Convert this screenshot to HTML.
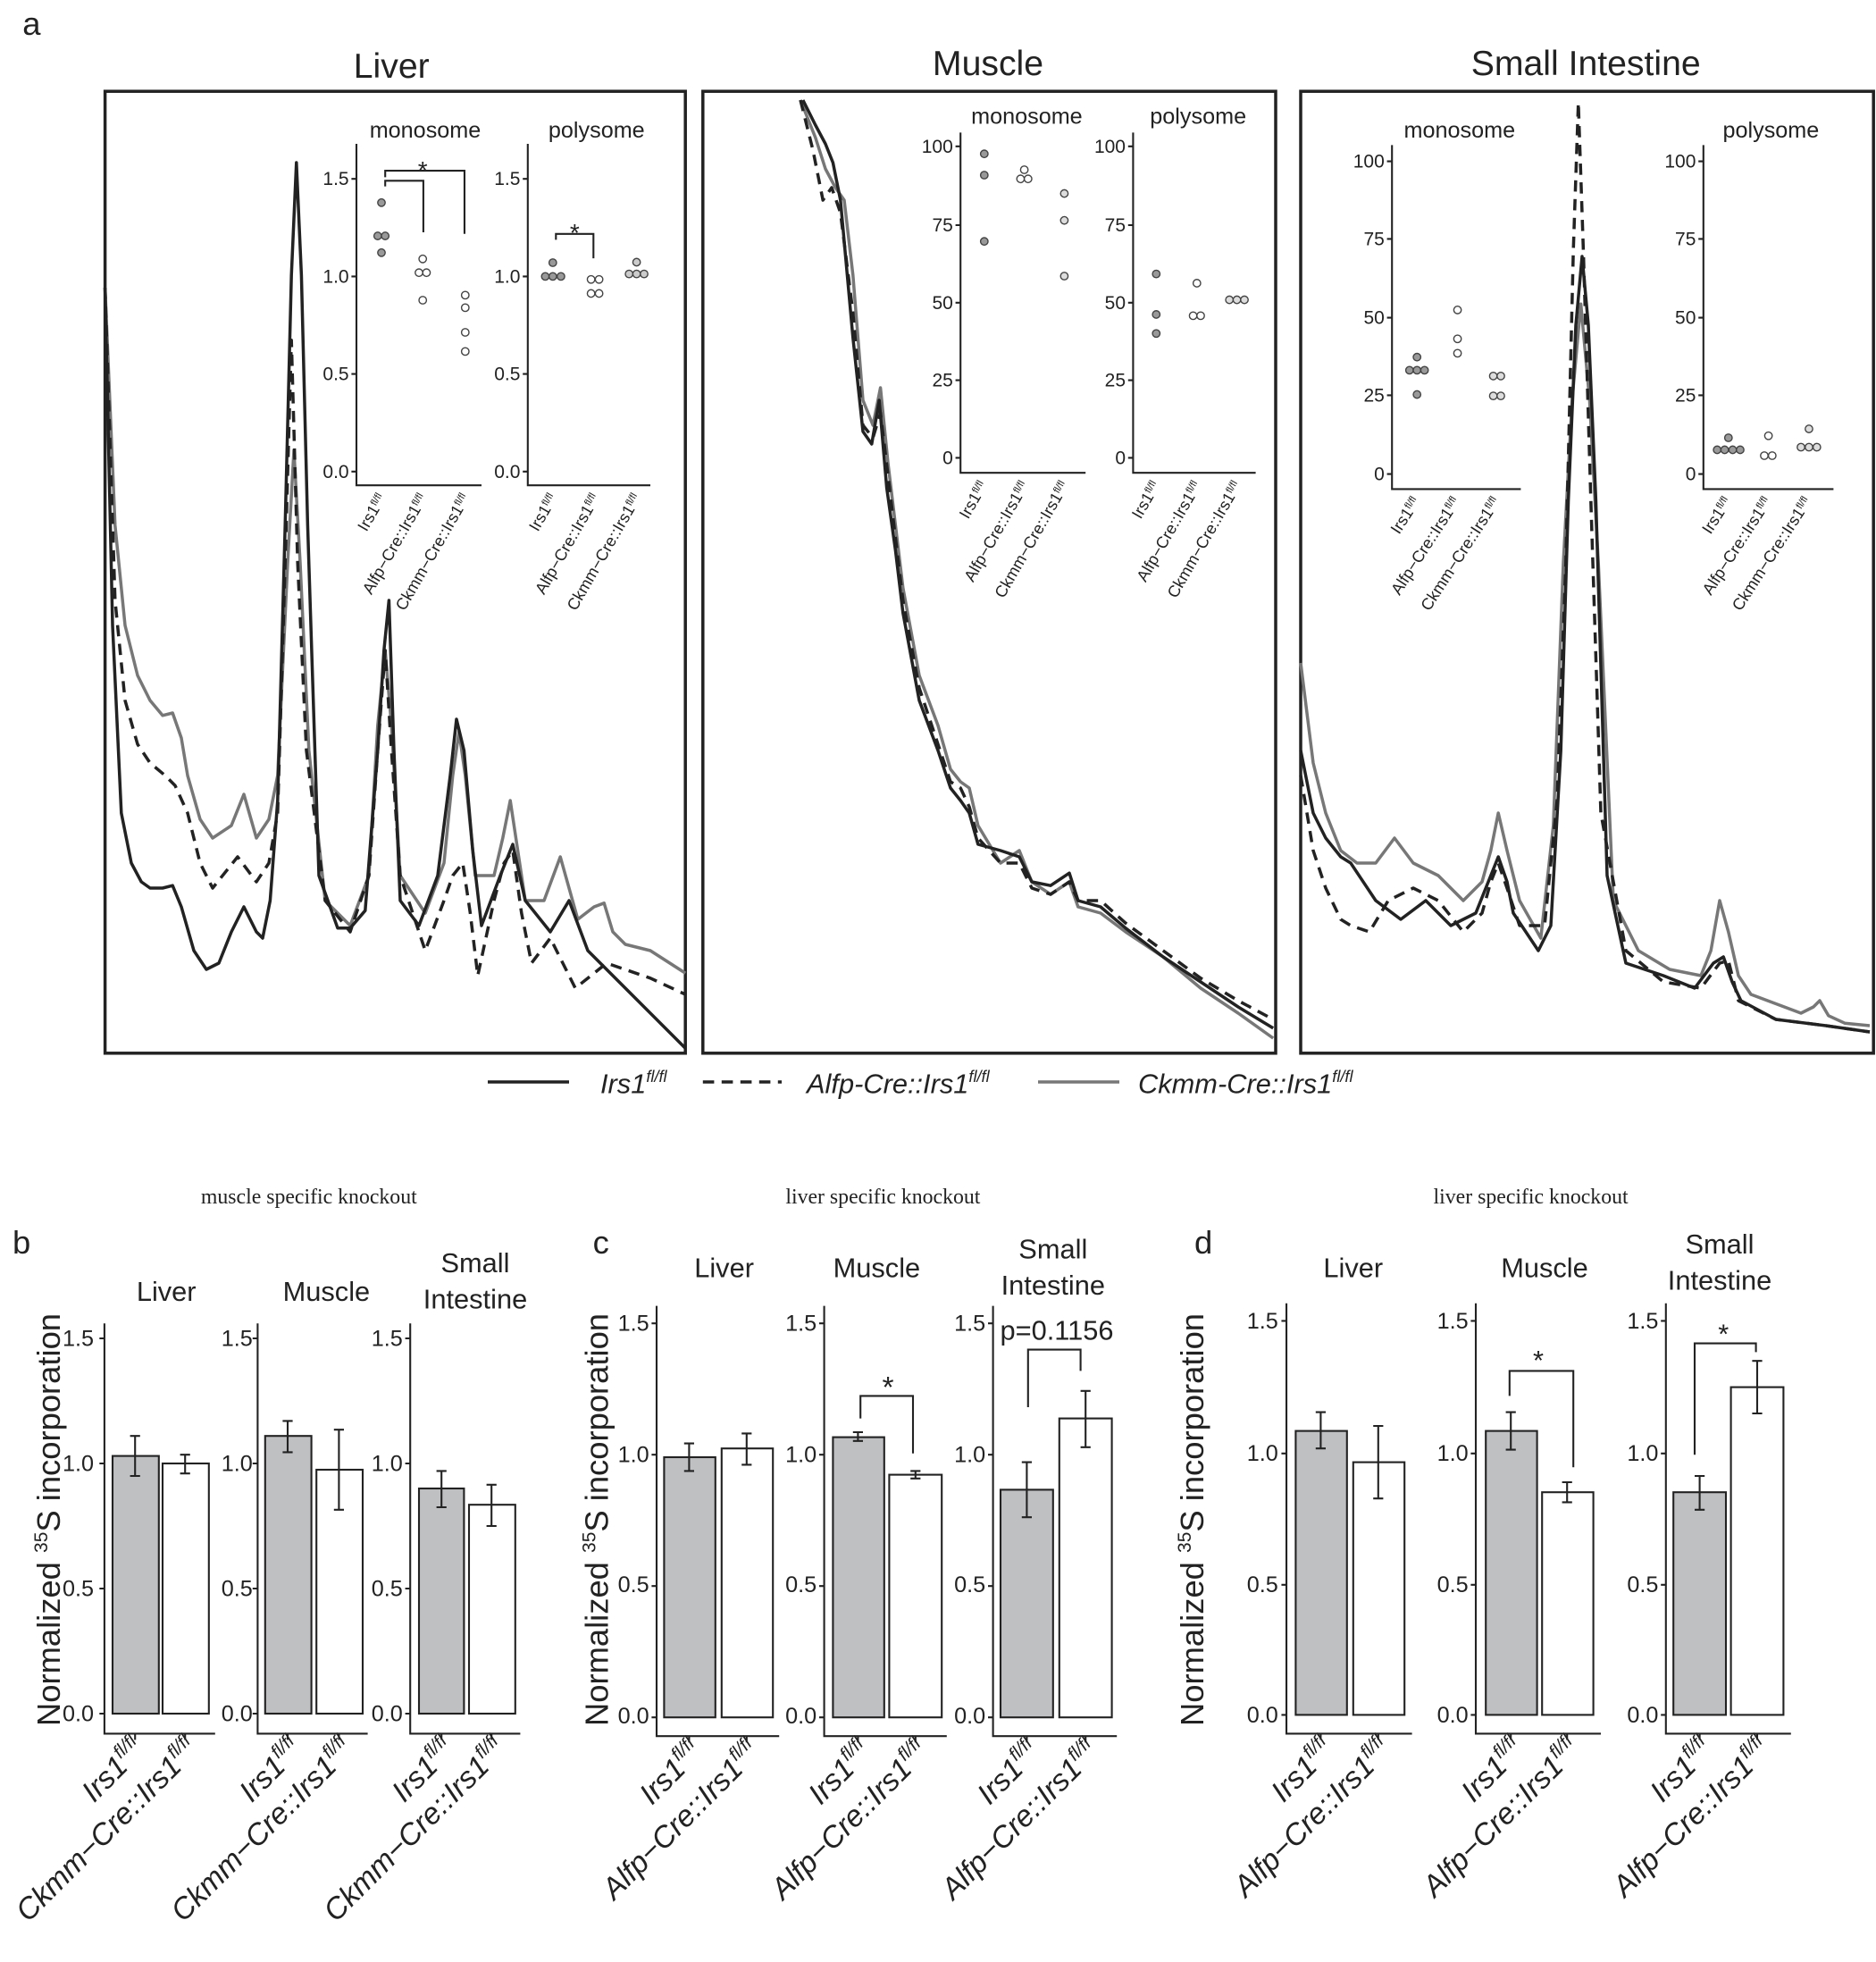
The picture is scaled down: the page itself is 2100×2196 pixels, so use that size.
<!DOCTYPE html>
<html><head><meta charset="utf-8"><style>
html,body{margin:0;padding:0;background:#fff}
svg{display:block}
text{font-family:"Liberation Sans",Arial,sans-serif;fill:#222}
.ax{stroke:#222;stroke-width:1.5;fill:none}
.t{font-size:18px}
.s{font-size:13px}
.c{font-size:15px}
.b{font-size:18px}
</style></head><body>
<svg width="2100" height="2196" viewBox="0 0 1500 1568.57" xmlns="http://www.w3.org/2000/svg">
<rect width="1500" height="1570" fill="#fff"/>
<text x="18" y="28" font-size="26">a</text>
<text x="313" y="62" font-size="28" text-anchor="middle">Liver</text>
<text x="790" y="60" font-size="28" text-anchor="middle">Muscle</text>
<text x="1268" y="60" font-size="28" text-anchor="middle">Small Intestine</text>
<rect x="84" y="73" width="464" height="769" fill="none" stroke="#222" stroke-width="2.5"/>
<rect x="562" y="73" width="458" height="769" fill="none" stroke="#222" stroke-width="2.5"/>
<rect x="1040" y="73" width="458" height="769" fill="none" stroke="#222" stroke-width="2.5"/>

<!-- Liver traces -->
<polyline fill="none" stroke="#777" stroke-width="2.5" stroke-linejoin="round" points="84,230 92,420 100,500 110,540 120,560 130,572 138,570 145,590 150,620 160,655 170,670 185,660 195,635 205,670 215,655 222,620 230,450 235,360 240,450 247,600 260,720 280,740 295,700 302,580 308,520 313,580 320,700 340,730 355,690 362,620 367,585 372,620 380,700 395,700 402,670 408,640 414,680 420,720 435,720 448,685 455,710 462,735 475,725 483,722 490,745 500,755 520,760 548,778"/>
<polyline fill="none" stroke="#222" stroke-width="2.5" stroke-dasharray="9,6" stroke-linejoin="round" points="84,230 92,480 100,560 110,595 120,610 132,620 140,628 150,650 160,690 170,710 190,685 205,705 215,690 222,650 228,450 233,272 238,450 245,600 260,720 280,745 295,700 302,600 308,520 313,600 320,700 340,760 355,720 362,700 370,690 376,730 382,780 395,720 403,690 410,680 417,730 425,770 440,750 460,790 485,770 520,782 548,795"/>
<polyline fill="none" stroke="#222" stroke-width="2.5" stroke-linejoin="round" points="84,230 90,500 97,650 105,690 113,705 120,710 130,710 138,708 145,725 155,760 165,775 175,770 185,745 195,725 205,745 210,750 216,720 222,640 228,420 233,220 237,130 241,220 246,420 255,700 270,742 280,742 292,728 302,600 307,520 311,480 315,600 320,720 335,740 350,700 360,620 365,575 371,600 378,680 385,740 400,700 410,675 420,720 440,745 455,720 470,760 490,780 510,800 530,820 548,838"/>

<!-- Liver insets -->
<text x="340" y="110" class="t" text-anchor="middle">monosome</text>
<text x="477" y="110" class="t" text-anchor="middle">polysome</text>
<path class="ax" d="M285,115V388H385M422,115V388H520"/>
<g class="c" text-anchor="end">
<text x="279" y="148">1.5</text><text x="279" y="226">1.0</text><text x="279" y="304">0.5</text><text x="279" y="382">0.0</text>
<text x="416" y="148">1.5</text><text x="416" y="226">1.0</text><text x="416" y="304">0.5</text><text x="416" y="382">0.0</text>
</g>
<path class="ax" d="M281,143h4M281,221h4M281,299h4M281,377h4M418,143h4M418,221h4M418,299h4M418,377h4"/>
<g class="s" text-anchor="end">
<text transform="translate(309,398) rotate(-60)">Irs1<tspan font-size="8" dy="-4">fl/fl</tspan></text>
<text transform="translate(342,398) rotate(-60)">Alfp−Cre::Irs1<tspan font-size="8" dy="-4">fl/fl</tspan></text>
<text transform="translate(376,398) rotate(-60)">Ckmm−Cre::Irs1<tspan font-size="8" dy="-4">fl/fl</tspan></text>
<text transform="translate(446,398) rotate(-60)">Irs1<tspan font-size="8" dy="-4">fl/fl</tspan></text>
<text transform="translate(480,398) rotate(-60)">Alfp−Cre::Irs1<tspan font-size="8" dy="-4">fl/fl</tspan></text>
<text transform="translate(513,398) rotate(-60)">Ckmm−Cre::Irs1<tspan font-size="8" dy="-4">fl/fl</tspan></text>
</g>
<g stroke="#444" stroke-width="1">
<g fill="#999"><circle cx="305" cy="162" r="3"/><circle cx="302" cy="188.6" r="3"/><circle cx="308" cy="188.6" r="3"/><circle cx="305" cy="202" r="3"/>
<circle cx="442" cy="210" r="3"/><circle cx="436" cy="221" r="3"/><circle cx="442" cy="221" r="3"/><circle cx="448.5" cy="221" r="3"/></g>
<g fill="#ccc"><circle cx="509" cy="209.6" r="3"/><circle cx="503" cy="219" r="3"/><circle cx="509" cy="219" r="3"/><circle cx="515" cy="219" r="3"/></g>
<g fill="#fff"><circle cx="338" cy="207" r="3"/><circle cx="335" cy="218" r="3"/><circle cx="341" cy="218" r="3"/><circle cx="338" cy="240" r="3"/>
<circle cx="372" cy="236" r="3"/><circle cx="372" cy="246" r="3"/><circle cx="372" cy="265.7" r="3"/><circle cx="372" cy="281" r="3"/>
<circle cx="472.6" cy="223.4" r="3"/><circle cx="479" cy="223.4" r="3"/><circle cx="472.6" cy="234.6" r="3"/><circle cx="479" cy="234.6" r="3"/></g>
</g>
<path class="ax" stroke-width="2" d="M308,149V144.5H338.5V185.7M308,141.7V136.5H371.4V187M444.5,191.7V187H474.5V206.5"/>
<text x="338" y="143" font-size="20" text-anchor="middle">*</text>
<text x="459.5" y="193" font-size="20" text-anchor="middle">*</text>

<!-- Muscle traces -->
<polyline fill="none" stroke="#777" stroke-width="2.5" stroke-linejoin="round" points="640,80 652,110 660,135 668,150 675,160 682,220 690,320 698,340 704,310 710,370 716,420 722,470 735,540 750,580 760,615 768,625 775,630 782,660 800,690 815,680 825,705 840,715 855,705 862,725 880,730 900,745 930,765 960,790 990,810 1018,830"/>
<polyline fill="none" stroke="#222" stroke-width="2.5" stroke-dasharray="9,6" stroke-linejoin="round" points="640,80 650,120 658,160 665,150 672,170 682,250 690,340 698,350 704,330 710,380 716,430 722,480 735,550 750,595 760,625 768,630 775,645 782,670 800,690 815,690 825,710 840,715 855,705 862,720 880,720 900,738 930,760 960,782 990,800 1018,815"/>
<polyline fill="none" stroke="#222" stroke-width="2.5" stroke-linejoin="round" points="642,80 652,100 660,115 666,130 672,160 682,270 690,345 697,355 703,320 709,390 716,440 722,490 735,560 750,600 760,630 768,640 775,650 782,675 800,680 815,685 825,705 840,708 855,698 862,720 880,725 900,742 930,765 960,785 990,805 1018,822"/>

<!-- Muscle insets -->
<text x="821" y="99" class="t" text-anchor="middle">monosome</text>
<text x="958" y="99" class="t" text-anchor="middle">polysome</text>
<path class="ax" d="M768,106V378H868M906,106V378H1004"/>
<g class="c" text-anchor="end">
<text x="762" y="122">100</text><text x="762" y="185">75</text><text x="762" y="247">50</text><text x="762" y="309">25</text><text x="762" y="371">0</text>
<text x="900" y="122">100</text><text x="900" y="185">75</text><text x="900" y="247">50</text><text x="900" y="309">25</text><text x="900" y="371">0</text>
</g>
<path class="ax" d="M764,117h4M764,180h4M764,242h4M764,304h4M764,366h4M902,117h4M902,180h4M902,242h4M902,304h4M902,366h4"/>
<g class="s" text-anchor="end">
<text transform="translate(790,388) rotate(-60)">Irs1<tspan font-size="8" dy="-4">fl/fl</tspan></text>
<text transform="translate(823,388) rotate(-60)">Alfp−Cre::Irs1<tspan font-size="8" dy="-4">fl/fl</tspan></text>
<text transform="translate(855,388) rotate(-60)">Ckmm−Cre::Irs1<tspan font-size="8" dy="-4">fl/fl</tspan></text>
<text transform="translate(928,388) rotate(-60)">Irs1<tspan font-size="8" dy="-4">fl/fl</tspan></text>
<text transform="translate(961,388) rotate(-60)">Alfp−Cre::Irs1<tspan font-size="8" dy="-4">fl/fl</tspan></text>
<text transform="translate(993,388) rotate(-60)">Ckmm−Cre::Irs1<tspan font-size="8" dy="-4">fl/fl</tspan></text>
</g>
<g stroke="#444" stroke-width="1">
<g fill="#999"><circle cx="787" cy="123" r="3"/><circle cx="787" cy="140" r="3"/><circle cx="787" cy="193" r="3"/>
<circle cx="924.5" cy="219" r="3"/><circle cx="924.5" cy="251.4" r="3"/><circle cx="924.5" cy="266.6" r="3"/></g>
<g fill="#ddd"><circle cx="851" cy="154.7" r="3"/><circle cx="851" cy="176.2" r="3"/><circle cx="851" cy="220.7" r="3"/>
<circle cx="983" cy="239.7" r="3"/><circle cx="989" cy="239.7" r="3"/><circle cx="995" cy="239.7" r="3"/></g>
<g fill="#fff"><circle cx="819" cy="135.7" r="3"/><circle cx="816" cy="143" r="3"/><circle cx="822" cy="143" r="3"/>
<circle cx="957" cy="226.4" r="3"/><circle cx="954" cy="252.4" r="3"/><circle cx="960" cy="252.4" r="3"/></g>
</g>

<!-- SI traces -->
<polyline fill="none" stroke="#777" stroke-width="2.5" stroke-linejoin="round" points="1040,530 1050,610 1060,650 1072,680 1085,690 1100,690 1115,670 1130,690 1150,700 1170,720 1185,705 1192,680 1198,650 1205,680 1215,720 1232,750 1242,660 1250,450 1257,320 1264,243 1271,320 1278,450 1290,720 1310,760 1335,775 1360,780 1368,760 1375,720 1382,745 1390,780 1400,795 1440,810 1450,805 1455,800 1462,812 1475,818 1495,820"/>
<polyline fill="none" stroke="#222" stroke-width="2.5" stroke-dasharray="9,6" stroke-linejoin="round" points="1040,620 1050,680 1060,710 1072,735 1080,740 1095,745 1110,720 1130,710 1150,720 1170,745 1185,730 1192,705 1198,690 1205,710 1215,740 1235,740 1245,640 1252,450 1258,200 1262,82 1266,200 1272,400 1280,650 1300,760 1330,785 1360,790 1375,770 1382,768 1390,800 1420,815 1460,820 1495,825"/>
<polyline fill="none" stroke="#222" stroke-width="2.5" stroke-linejoin="round" points="1040,600 1050,650 1060,670 1072,685 1080,690 1100,720 1120,735 1140,720 1160,740 1180,730 1192,700 1198,685 1205,705 1210,730 1230,760 1240,740 1248,600 1254,400 1260,260 1265,205 1270,260 1276,400 1285,700 1300,770 1330,780 1355,790 1370,770 1378,765 1385,785 1392,800 1420,815 1460,820 1495,825"/>

<!-- SI insets -->
<text x="1167" y="110" class="t" text-anchor="middle">monosome</text>
<text x="1416" y="110" class="t" text-anchor="middle">polysome</text>
<path class="ax" d="M1113,116V391H1216M1362,116V391H1466"/>
<g class="c" text-anchor="end">
<text x="1107" y="134">100</text><text x="1107" y="196">75</text><text x="1107" y="259">50</text><text x="1107" y="321">25</text><text x="1107" y="384">0</text>
<text x="1356" y="134">100</text><text x="1356" y="196">75</text><text x="1356" y="259">50</text><text x="1356" y="321">25</text><text x="1356" y="384">0</text>
</g>
<path class="ax" d="M1109,129h4M1109,191h4M1109,254h4M1109,316h4M1109,379h4M1358,129h4M1358,191h4M1358,254h4M1358,316h4M1358,379h4"/>
<g class="s" text-anchor="end">
<text transform="translate(1136,401) rotate(-57)">Irs1<tspan font-size="8" dy="-4">fl/fl</tspan></text>
<text transform="translate(1168,401) rotate(-57)">Alfp−Cre::Irs1<tspan font-size="8" dy="-4">fl/fl</tspan></text>
<text transform="translate(1200,401) rotate(-57)">Ckmm−Cre::Irs1<tspan font-size="8" dy="-4">fl/fl</tspan></text>
<text transform="translate(1385,401) rotate(-57)">Irs1<tspan font-size="8" dy="-4">fl/fl</tspan></text>
<text transform="translate(1417,401) rotate(-57)">Alfp−Cre::Irs1<tspan font-size="8" dy="-4">fl/fl</tspan></text>
<text transform="translate(1449,401) rotate(-57)">Ckmm−Cre::Irs1<tspan font-size="8" dy="-4">fl/fl</tspan></text>
</g>
<g stroke="#444" stroke-width="1">
<g fill="#999"><circle cx="1133" cy="285.5" r="3"/><circle cx="1127" cy="296" r="3"/><circle cx="1133" cy="296" r="3"/><circle cx="1139" cy="296" r="3"/><circle cx="1133" cy="315.4" r="3"/>
<circle cx="1382" cy="350" r="3"/><circle cx="1373" cy="359.6" r="3"/><circle cx="1379" cy="359.6" r="3"/><circle cx="1385.4" cy="359.6" r="3"/><circle cx="1391.4" cy="359.6" r="3"/></g>
<g fill="#ddd"><circle cx="1194" cy="300.6" r="3"/><circle cx="1200" cy="300.6" r="3"/><circle cx="1194" cy="316.5" r="3"/><circle cx="1200" cy="316.5" r="3"/>
<circle cx="1446.4" cy="342.9" r="3"/><circle cx="1440" cy="357.5" r="3"/><circle cx="1446.4" cy="357.5" r="3"/><circle cx="1452.7" cy="357.5" r="3"/></g>
<g fill="#fff"><circle cx="1165.4" cy="247.8" r="3"/><circle cx="1165.4" cy="270.9" r="3"/><circle cx="1165.4" cy="282.4" r="3"/>
<circle cx="1414" cy="348.4" r="3"/><circle cx="1410.7" cy="364.3" r="3"/><circle cx="1417" cy="364.3" r="3"/></g>
</g>

<!-- Legend -->
<line x1="390" y1="865" x2="455" y2="865" stroke="#222" stroke-width="2.5"/>
<text x="480" y="874" font-size="22" font-style="italic">Irs1<tspan font-size="13" dy="-9">fl/fl</tspan></text>
<line x1="562" y1="865" x2="625" y2="865" stroke="#222" stroke-width="2.5" stroke-dasharray="9,6"/>
<text x="645" y="874" font-size="22" font-style="italic">Alfp-Cre::Irs1<tspan font-size="13" dy="-9">fl/fl</tspan></text>
<line x1="830" y1="865" x2="895" y2="865" stroke="#777" stroke-width="2.5"/>
<text x="910" y="874" font-size="22" font-style="italic">Ckmm-Cre::Irs1<tspan font-size="13" dy="-9">fl/fl</tspan></text>

<!-- Bottom -->
<g font-size="17" text-anchor="middle">
<text x="247" y="962" style="font-family:'Liberation Serif',serif">muscle specific knockout</text>
<text x="706" y="962" style="font-family:'Liberation Serif',serif">liver specific knockout</text>
<text x="1224" y="962" style="font-family:'Liberation Serif',serif">liver specific knockout</text>
</g>
<text x="10" y="1002" font-size="26">b</text>
<text x="474" y="1002" font-size="26">c</text>
<text x="955" y="1002" font-size="26">d</text>

<g font-size="22" text-anchor="middle">
<text x="133" y="1040">Liver</text><text x="261" y="1040">Muscle</text><text x="380" y="1017">Small</text><text x="380" y="1046">Intestine</text>
<text x="579" y="1021">Liver</text><text x="701" y="1021">Muscle</text><text x="842" y="1006">Small</text><text x="842" y="1035">Intestine</text>
<text x="1082" y="1021">Liver</text><text x="1235" y="1021">Muscle</text><text x="1375" y="1002">Small</text><text x="1375" y="1031">Intestine</text>
</g>
<g font-size="26" text-anchor="middle">
<text transform="translate(48,1215) rotate(-90)">Normalized <tspan font-size="15" dy="-10">35</tspan><tspan dy="10">S incorporation</tspan></text>
<text transform="translate(486,1215) rotate(-90)">Normalized <tspan font-size="15" dy="-10">35</tspan><tspan dy="10">S incorporation</tspan></text>
<text transform="translate(962,1215) rotate(-90)">Normalized <tspan font-size="15" dy="-10">35</tspan><tspan dy="10">S incorporation</tspan></text>
</g>

<g class="b" text-anchor="end">
<text x="75" y="1076">1.5</text><text x="75" y="1176">1.0</text><text x="75" y="1276">0.5</text><text x="75" y="1376">0.0</text>
<text x="202" y="1076">1.5</text><text x="202" y="1176">1.0</text><text x="202" y="1276">0.5</text><text x="202" y="1376">0.0</text>
<text x="322" y="1076">1.5</text><text x="322" y="1176">1.0</text><text x="322" y="1276">0.5</text><text x="322" y="1376">0.0</text>
<text x="519" y="1064">1.5</text><text x="519" y="1169">1.0</text><text x="519" y="1273">0.5</text><text x="519" y="1378">0.0</text>
<text x="653" y="1064">1.5</text><text x="653" y="1169">1.0</text><text x="653" y="1273">0.5</text><text x="653" y="1378">0.0</text>
<text x="788" y="1064">1.5</text><text x="788" y="1169">1.0</text><text x="788" y="1273">0.5</text><text x="788" y="1378">0.0</text>
<text x="1022" y="1062">1.5</text><text x="1022" y="1168">1.0</text><text x="1022" y="1273">0.5</text><text x="1022" y="1377">0.0</text>
<text x="1174" y="1062">1.5</text><text x="1174" y="1168">1.0</text><text x="1174" y="1273">0.5</text><text x="1174" y="1377">0.0</text>
<text x="1326" y="1062">1.5</text><text x="1326" y="1168">1.0</text><text x="1326" y="1273">0.5</text><text x="1326" y="1377">0.0</text>
</g>
<path class="ax" stroke-width="1.8" d="
M83.5,1058V1386H172M79.5,1070h4M79.5,1170h4M79.5,1270h4M79.5,1370h4
M206,1058V1386H294M202,1070h4M202,1170h4M202,1270h4M202,1370h4
M328,1058V1386H416M324,1070h4M324,1170h4M324,1270h4M324,1370h4
M525,1044V1388H623M521,1058h4M521,1163h4M521,1268h4M521,1373h4
M659,1044V1388H757M655,1058h4M655,1163h4M655,1268h4M655,1373h4
M794,1044V1388H893M790,1058h4M790,1163h4M790,1268h4M790,1373h4
M1028.6,1042V1386H1129M1024.6,1056h4M1024.6,1162h4M1024.6,1267h4M1024.6,1371h4
M1180,1042V1386H1280M1176,1056h4M1176,1162h4M1176,1267h4M1176,1371h4
M1332,1042V1386H1432M1328,1056h4M1328,1162h4M1328,1267h4M1328,1371h4"/>
<path class="ax" stroke-width="1.5" d="M108,1386v5M148,1386v5M230,1386v5M271,1386v5M353,1386v5M393,1386v5M551,1388v5M597,1388v5M686,1388v5M732,1388v5M821,1388v5M868,1388v5M1056,1386v5M1102,1386v5M1208,1386v5M1253,1386v5M1359,1386v5M1405,1386v5"/>

<g stroke="#222" stroke-width="1.5">
<rect x="90" y="1164" width="37" height="206" fill="#bfc0c2"/><rect x="130" y="1170" width="37" height="200" fill="#fff"/>
<rect x="212" y="1148" width="37" height="222" fill="#bfc0c2"/><rect x="253" y="1175" width="37" height="195" fill="#fff"/>
<rect x="335" y="1190" width="36" height="180" fill="#bfc0c2"/><rect x="375" y="1203" width="37" height="167" fill="#fff"/>
<rect x="531" y="1165" width="41" height="208" fill="#bfc0c2"/><rect x="577" y="1158" width="41" height="215" fill="#fff"/>
<rect x="666" y="1149" width="41" height="224" fill="#bfc0c2"/><rect x="711" y="1179" width="42" height="194" fill="#fff"/>
<rect x="800" y="1191" width="42" height="182" fill="#bfc0c2"/><rect x="847" y="1134" width="42" height="239" fill="#fff"/>
<rect x="1036" y="1144" width="41" height="227" fill="#bfc0c2"/><rect x="1082" y="1169" width="41" height="202" fill="#fff"/>
<rect x="1188" y="1144" width="41" height="227" fill="#bfc0c2"/><rect x="1233" y="1193" width="41" height="178" fill="#fff"/>
<rect x="1338" y="1193" width="42" height="178" fill="#bfc0c2"/><rect x="1384" y="1109" width="42" height="262" fill="#fff"/>
</g>
<path class="ax" stroke-width="1.6" d="
M108,1148V1180M104,1148h8M104,1180h8 M148,1163V1178M144,1163h8M144,1178h8
M230,1136V1161M226,1136h8M226,1161h8 M271,1143V1207M267,1143h8M267,1207h8
M353,1176V1205M349,1176h8M349,1205h8 M393,1187V1220M389,1187h8M389,1220h8
M551,1154V1176M547,1154h8M547,1176h8 M597,1146V1171M593,1146h8M593,1171h8
M686,1145V1152M682,1145h8M682,1152h8 M732,1176V1182M728,1176h8M728,1182h8
M821,1169V1213M817,1169h8M817,1213h8 M868,1112V1157M864,1112h8M864,1157h8
M1056,1129V1158M1052,1129h8M1052,1158h8 M1102,1140V1198M1098,1140h8M1098,1198h8
M1208,1129V1159M1204,1129h8M1204,1159h8 M1253,1185V1201M1249,1185h8M1249,1201h8
M1359,1180V1207M1355,1180h8M1355,1207h8 M1405,1088V1130M1401,1088h8M1401,1130h8"/>
<path class="ax" stroke-width="2" d="M688,1134V1116H730V1162M822,1125V1079H864V1096M1207,1116V1096H1258V1173M1355,1163V1074H1404V1081"/>
<text x="710" y="1117" font-size="24" text-anchor="middle">*</text>
<text x="1230" y="1095" font-size="22" text-anchor="middle">*</text>
<text x="1378" y="1074" font-size="22" text-anchor="middle">*</text>
<text x="845" y="1071" font-size="22" text-anchor="middle">p=0.1156</text>

<g font-size="24" font-style="italic" text-anchor="end">
<text transform="translate(117,1400) rotate(-45)">Irs1<tspan font-size="15" dy="-10">fl/fl</tspan></text>
<text transform="translate(160,1400) rotate(-45)">Ckmm−Cre::Irs1<tspan font-size="15" dy="-10">fl/fl</tspan></text>
<text transform="translate(243,1400) rotate(-45)">Irs1<tspan font-size="15" dy="-10">fl/fl</tspan></text>
<text transform="translate(284,1400) rotate(-45)">Ckmm−Cre::Irs1<tspan font-size="15" dy="-10">fl/fl</tspan></text>
<text transform="translate(365,1400) rotate(-45)">Irs1<tspan font-size="15" dy="-10">fl/fl</tspan></text>
<text transform="translate(406,1400) rotate(-45)">Ckmm−Cre::Irs1<tspan font-size="15" dy="-10">fl/fl</tspan></text>
<text transform="translate(563,1402) rotate(-45)">Irs1<tspan font-size="15" dy="-10">fl/fl</tspan></text>
<text transform="translate(609,1402) rotate(-45)">Alfp−Cre::Irs1<tspan font-size="15" dy="-10">fl/fl</tspan></text>
<text transform="translate(698,1402) rotate(-45)">Irs1<tspan font-size="15" dy="-10">fl/fl</tspan></text>
<text transform="translate(744,1402) rotate(-45)">Alfp−Cre::Irs1<tspan font-size="15" dy="-10">fl/fl</tspan></text>
<text transform="translate(833,1402) rotate(-45)">Irs1<tspan font-size="15" dy="-10">fl/fl</tspan></text>
<text transform="translate(880,1402) rotate(-45)">Alfp−Cre::Irs1<tspan font-size="15" dy="-10">fl/fl</tspan></text>
<text transform="translate(1068,1400) rotate(-45)">Irs1<tspan font-size="15" dy="-10">fl/fl</tspan></text>
<text transform="translate(1114,1400) rotate(-45)">Alfp−Cre::Irs1<tspan font-size="15" dy="-10">fl/fl</tspan></text>
<text transform="translate(1220,1400) rotate(-45)">Irs1<tspan font-size="15" dy="-10">fl/fl</tspan></text>
<text transform="translate(1265,1400) rotate(-45)">Alfp−Cre::Irs1<tspan font-size="15" dy="-10">fl/fl</tspan></text>
<text transform="translate(1371,1400) rotate(-45)">Irs1<tspan font-size="15" dy="-10">fl/fl</tspan></text>
<text transform="translate(1417,1400) rotate(-45)">Alfp−Cre::Irs1<tspan font-size="15" dy="-10">fl/fl</tspan></text>
</g>
</svg>
</body></html>
